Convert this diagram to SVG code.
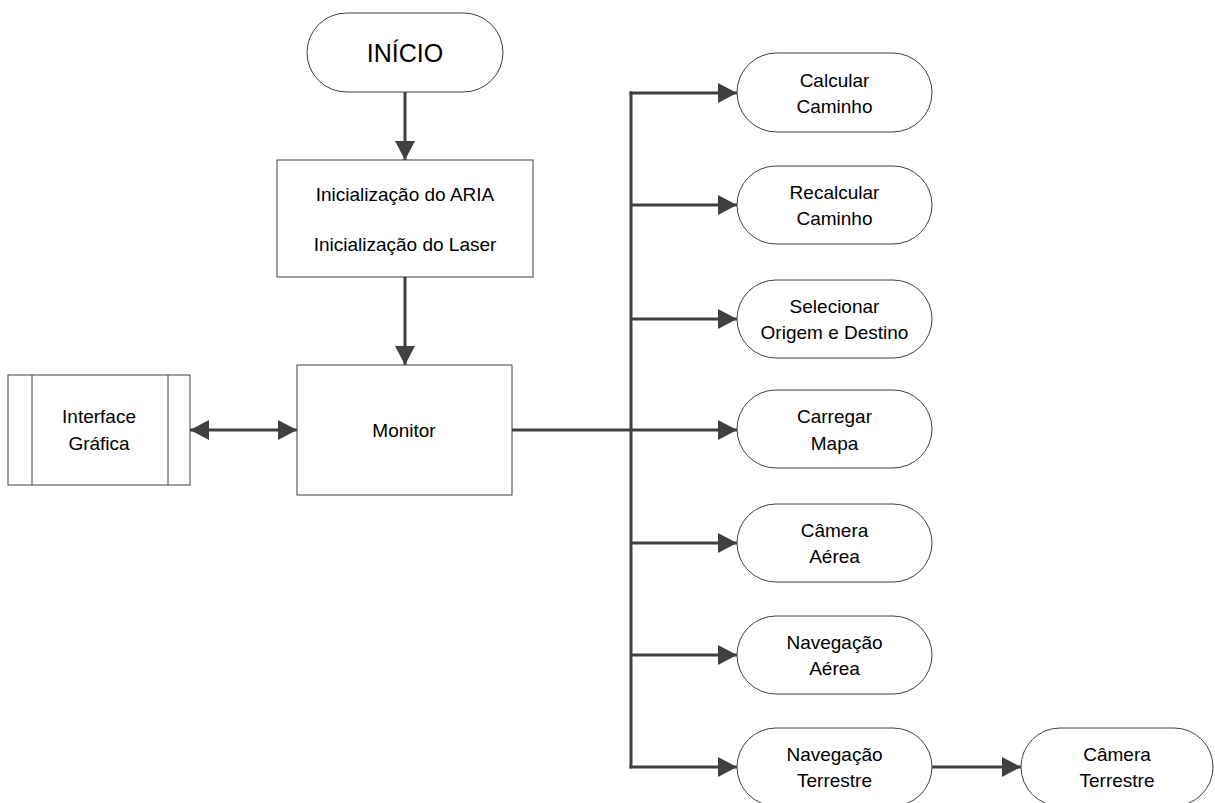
<svg xmlns="http://www.w3.org/2000/svg" width="1215" height="803" viewBox="0 0 1215 803">
<style>
.shape{fill:#fff;stroke:#404040;stroke-width:1}
.lbl{font-family:"Liberation Sans",Arial,sans-serif;font-size:19px;fill:#000;text-anchor:middle}
.big{font-size:25px}
.conn{fill:none;stroke:#404040;stroke-width:3}
</style>
<defs>
<marker id="ah" markerUnits="userSpaceOnUse" viewBox="0 0 19 20" refX="19" refY="10" markerWidth="19" markerHeight="20" orient="auto-start-reverse">
<path d="M0,0 L19,10 L0,20 z" fill="#404040"/>
</marker>
</defs>
<rect width="1215" height="803" fill="#fff"/>
<g id="connectors">
<line class="conn" x1="405" y1="92" x2="405" y2="160" marker-end="url(#ah)"/>
<line class="conn" x1="405" y1="277" x2="405" y2="365" marker-end="url(#ah)"/>
<line class="conn" x1="190" y1="430" x2="297" y2="430" marker-start="url(#ah)" marker-end="url(#ah)"/>
<line class="conn" x1="507" y1="430" x2="631" y2="430"/>
<line class="conn" x1="631" y1="91.5" x2="631" y2="768.5"/>
<line class="conn" x1="629.5" y1="93" x2="737" y2="93" marker-end="url(#ah)"/>
<line class="conn" x1="631" y1="205" x2="737" y2="205" marker-end="url(#ah)"/>
<line class="conn" x1="631" y1="319" x2="737" y2="319" marker-end="url(#ah)"/>
<line class="conn" x1="631" y1="430" x2="737" y2="430" marker-end="url(#ah)"/>
<line class="conn" x1="631" y1="543" x2="737" y2="543" marker-end="url(#ah)"/>
<line class="conn" x1="631" y1="655" x2="737" y2="655" marker-end="url(#ah)"/>
<line class="conn" x1="629.5" y1="767" x2="737" y2="767" marker-end="url(#ah)"/>
<line class="conn" x1="932" y1="767" x2="1021" y2="767" marker-end="url(#ah)"/>
</g>
<g id="inicio">
<rect class="shape" x="307" y="13" width="196" height="79" rx="39.5"/>
<text class="lbl big" x="405" y="62">INÍCIO</text>
</g>
<g id="inicializacao">
<rect class="shape" x="277" y="160" width="256" height="117"/>
<text class="lbl" x="405" y="201">Inicialização do ARIA</text>
<text class="lbl" x="405" y="251">Inicialização do Laser</text>
</g>
<g id="monitor">
<rect class="shape" x="297" y="365" width="215" height="130"/>
<text class="lbl" x="404" y="437">Monitor</text>
</g>
<g id="interface">
<rect class="shape" x="8" y="375" width="182" height="110"/>
<line class="shape" x1="32" y1="375" x2="32" y2="485"/>
<line class="shape" x1="168" y1="375" x2="168" y2="485"/>
<text class="lbl" x="99" y="423">Interface</text>
<text class="lbl" x="99" y="450">Gráfica</text>
</g>
<g id="calcular">
<rect class="shape" x="737" y="53" width="195" height="79" rx="39.5"/>
<text class="lbl" x="834.5" y="87">Calcular</text>
<text class="lbl" x="834.5" y="113">Caminho</text>
</g>
<g id="recalcular">
<rect class="shape" x="737" y="166" width="195" height="78" rx="39"/>
<text class="lbl" x="834.5" y="199">Recalcular</text>
<text class="lbl" x="834.5" y="225">Caminho</text>
</g>
<g id="selecionar">
<rect class="shape" x="737" y="280" width="195" height="78" rx="39"/>
<text class="lbl" x="834.5" y="313">Selecionar</text>
<text class="lbl" x="834.5" y="339">Origem e Destino</text>
</g>
<g id="carregar">
<rect class="shape" x="737" y="390" width="195" height="78" rx="39"/>
<text class="lbl" x="834.5" y="423">Carregar</text>
<text class="lbl" x="834.5" y="450">Mapa</text>
</g>
<g id="camera-aerea">
<rect class="shape" x="737" y="504" width="195" height="78" rx="39"/>
<text class="lbl" x="834.5" y="537">Câmera</text>
<text class="lbl" x="834.5" y="563">Aérea</text>
</g>
<g id="navegacao-aerea">
<rect class="shape" x="737" y="616" width="195" height="78" rx="39"/>
<text class="lbl" x="834.5" y="649">Navegação</text>
<text class="lbl" x="834.5" y="675">Aérea</text>
</g>
<g id="navegacao-terrestre">
<rect class="shape" x="737" y="728" width="195" height="78" rx="39"/>
<text class="lbl" x="834.5" y="761">Navegação</text>
<text class="lbl" x="834.5" y="787">Terrestre</text>
</g>
<g id="camera-terrestre">
<rect class="shape" x="1021" y="728" width="192" height="78" rx="39"/>
<text class="lbl" x="1117" y="761">Câmera</text>
<text class="lbl" x="1117" y="787">Terrestre</text>
</g>
</svg>
